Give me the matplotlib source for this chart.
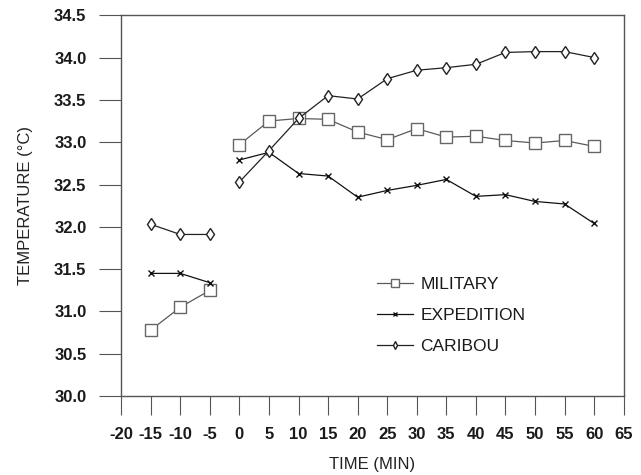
import matplotlib
matplotlib.use("Agg")
import matplotlib.pyplot as plt
import numpy as np

plt.rcParams['font.family'] = ['Liberation Sans', 'DejaVu Sans']

time_pre = [-15, -10, -5]
time_post = [0, 5, 10, 15, 20, 25, 30, 35, 40, 45, 50, 55, 60]

military_pre = [30.78, 31.05, 31.25]
military_post = [32.97, 33.25, 33.28, 33.27, 33.12, 33.03, 33.16, 33.06, 33.07, 33.02, 32.99, 33.02, 32.95]
expedition_pre = [31.45, 31.45, 31.34]
expedition_post = [32.79, 32.88, 32.63, 32.60, 32.35, 32.43, 32.49, 32.56, 32.36, 32.38, 32.30, 32.27, 32.04]
caribou_pre = [32.03, 31.91, 31.91]
caribou_post = [32.53, 32.90, 33.28, 33.55, 33.51, 33.75, 33.85, 33.88, 33.92, 34.06, 34.07, 34.07, 34.00]

xticks = list(range(-20, 70, 5))
yticks = [30.0, 30.5, 31.0, 31.5, 32.0, 32.5, 33.0, 33.5, 34.0, 34.5]

fig = plt.figure(figsize=(6.41, 4.75), dpi=100)
ax = fig.add_axes([0.189, 0.166, 0.784, 0.802])

mil_style = dict(color='#5a5a5a', lw=0.9, marker='s', ms=8, mfc='white', mec='#666666', mew=1.0)
exp_style = dict(color='#111111', lw=0.9, marker='x', ms=5, mec='#111111', mew=1.0)
car_style = dict(color='#222222', lw=0.9, marker='d', ms=6, mfc='white', mec='#222222', mew=1.0)

ax.plot(time_pre, military_pre, **mil_style)
ax.plot(time_post, military_post, label='MILITARY', **mil_style)
ax.plot(time_pre, expedition_pre, **exp_style)
ax.plot(time_post, expedition_post, label='EXPEDITION', **exp_style)
ax.plot(time_pre, caribou_pre, **car_style)
ax.plot(time_post, caribou_post, label='CARIBOU', **car_style)

ax.set_xlim(-20, 65)
ax.set_ylim(30.0, 34.5)
ax.set_xticks(xticks)
ax.set_xticklabels([str(t) for t in xticks])
ax.set_yticks(yticks)
ax.set_yticklabels([f"{v:.1f}" for v in yticks])

for s in ax.spines.values():
    s.set_color('#555555')
    s.set_linewidth(1.0)

ax.tick_params(axis='x', direction='out', length=14, width=0.8, color='#555555',
               labelsize=12, pad=8)
ax.tick_params(axis='y', direction='out', length=16, width=0.8, color='#555555',
               labelsize=12, pad=9)
for lab in ax.get_xticklabels() + ax.get_yticklabels():
    lab.set_fontweight('bold')
    lab.set_color('#1a1a1a')

ax.set_xlabel('TIME (MIN)', fontsize=12, color='#222222', labelpad=11)
ax.set_ylabel('TEMPERATURE (°C)', fontsize=12, color='#222222', labelpad=15)

leg = ax.legend(loc='upper left', bbox_to_anchor=(0.509, 0.312), frameon=False,
                fontsize=12.5, handlelength=2.1, labelspacing=0.9, handletextpad=0.4,
                borderpad=0, borderaxespad=0, markerscale=0.7)
for t in leg.get_texts():
    t.set_color('#1a1a1a')

fig.savefig('out.png', dpi=100)
